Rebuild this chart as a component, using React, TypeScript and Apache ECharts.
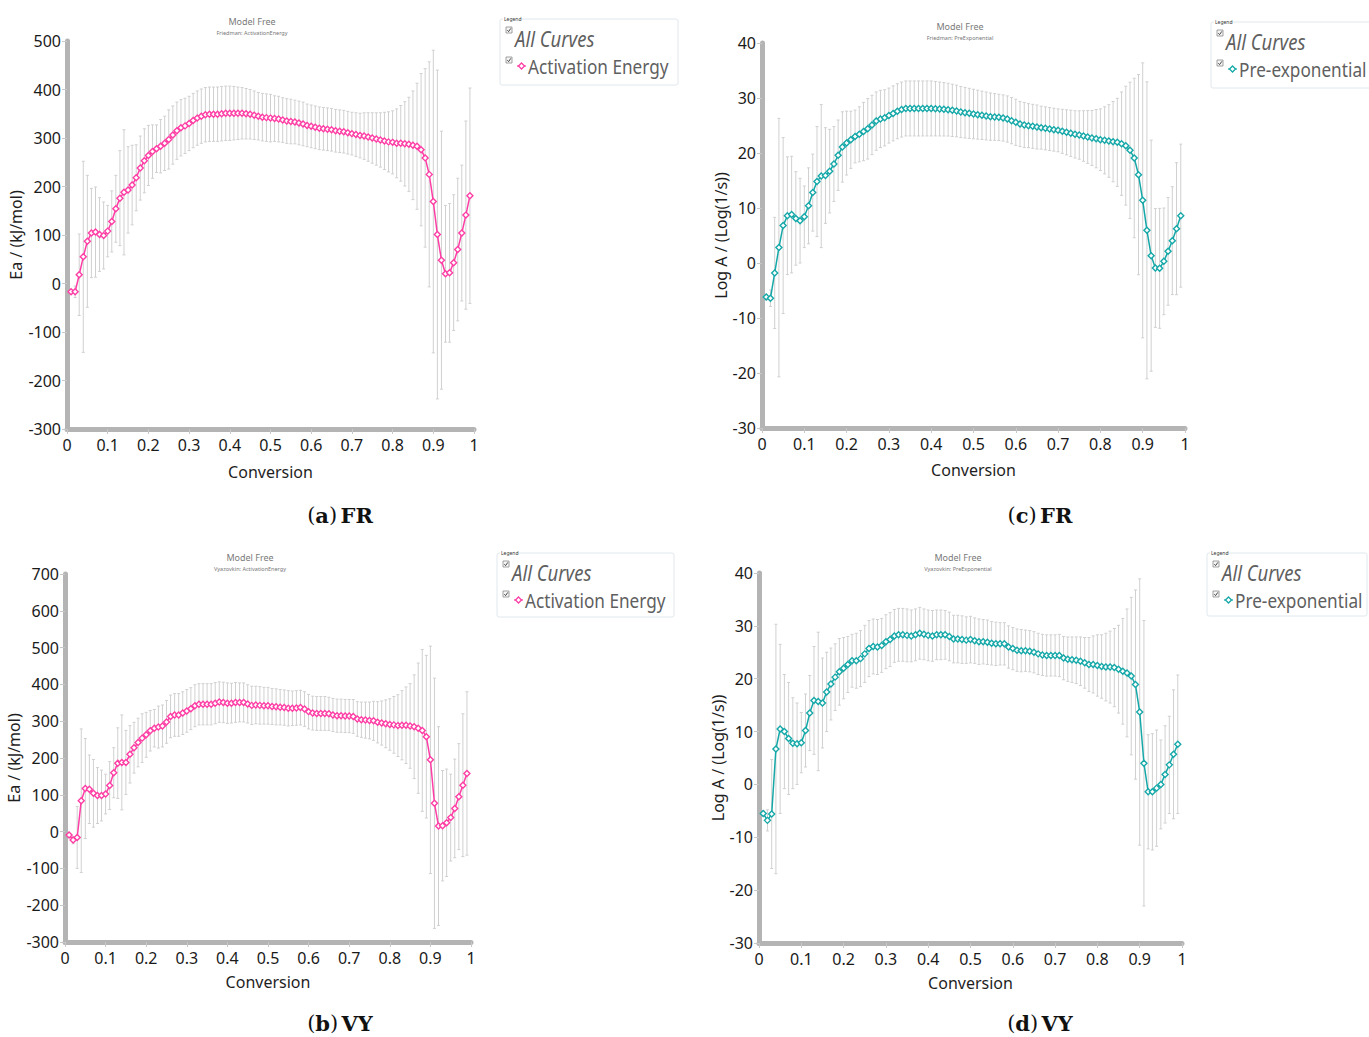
import React, { useEffect, useRef } from "react";
import * as echarts from "echarts";

// Conversion grid shared by every curve
const conversion = [
  0.01, 0.02, 0.03, 0.04, 0.05, 0.06, 0.07, 0.08, 0.09, 0.1,
  0.11, 0.12, 0.13, 0.14, 0.15, 0.16, 0.17, 0.18, 0.19, 0.2,
  0.21, 0.22, 0.23, 0.24, 0.25, 0.26, 0.27, 0.28, 0.29, 0.3,
  0.31, 0.32, 0.33, 0.34, 0.35, 0.36, 0.37, 0.38, 0.39, 0.4,
  0.41, 0.42, 0.43, 0.44, 0.45, 0.46, 0.47, 0.48, 0.49, 0.5,
  0.51, 0.52, 0.53, 0.54, 0.55, 0.56, 0.57, 0.58, 0.59, 0.6,
  0.61, 0.62, 0.63, 0.64, 0.65, 0.66, 0.67, 0.68, 0.69, 0.7,
  0.71, 0.72, 0.73, 0.74, 0.75, 0.76, 0.77, 0.78, 0.79, 0.8,
  0.81, 0.82, 0.83, 0.84, 0.85, 0.86, 0.87, 0.88, 0.89, 0.9,
  0.91, 0.92, 0.93, 0.94, 0.95, 0.96, 0.97, 0.98, 0.99,
];

const xTicks = ["0", "0.1", "0.2", "0.3", "0.4", "0.5", "0.6", "0.7", "0.8", "0.9", "1"];

// Friedman – activation energy (kJ/mol) and its spread
const eaFriedman = [
  -17, -17, 18, 55, 87, 104, 106, 101, 99, 108,
  128, 154, 176, 188, 193, 203, 218, 238, 253, 264,
  272, 278, 283, 289, 297, 306, 315, 321, 325, 330,
  336, 341, 345, 348, 349, 349, 349, 350, 351, 351,
  351, 351, 351, 350, 349, 347, 345, 343, 342, 341,
  340, 339, 337, 335, 334, 333, 331, 329, 326, 324,
  322, 320, 319, 318, 317, 315, 314, 313, 311, 309,
  307, 305, 304, 302, 300, 298, 296, 294, 292, 291,
  289, 289, 288, 287, 285, 283, 276, 259, 225, 169,
  101, 48, 20, 22, 43, 70, 104, 141, 181,
];
const eaFriedmanErr = [
  4, 12, 84, 197, 136, 92, 93, 76, 69, 53,
  63, 69, 98, 129, 89, 82, 68, 66, 66, 62,
  55, 49, 55, 56, 61, 60, 59, 58, 57, 56,
  56, 56, 56, 56, 56, 56, 56, 56, 56, 56,
  55, 54, 53, 52, 51, 50, 49, 49, 49, 49,
  47, 47, 46, 46, 46, 45, 45, 45, 44, 44,
  44, 44, 44, 44, 44, 44, 44, 44, 44, 44,
  45, 46, 48, 50, 52, 54, 56, 59, 62, 65,
  71, 78, 87, 97, 112, 130, 157, 184, 232, 312,
  339, 266, 141, 143, 140, 147, 140, 194, 222,
];

// Friedman – pre-exponential factor, Log A (Log(1/s))
const logAFriedman = [
  -6.2, -6.4, -1.8, 2.8, 6.8, 8.6, 8.8, 8.1, 7.7, 8.4,
  10.4, 12.8, 14.8, 15.8, 15.9, 16.7, 18.0, 19.6, 21.1, 21.8,
  22.4, 23.0, 23.4, 23.9, 24.4, 25.1, 25.8, 26.2, 26.4, 26.8,
  27.2, 27.6, 27.9, 28.1, 28.1, 28.1, 28.1, 28.1, 28.1, 28.1,
  28.06, 28.0, 27.94, 27.88, 27.76, 27.64, 27.45, 27.33, 27.21, 27.09,
  26.97, 26.85, 26.73, 26.61, 26.55, 26.48, 26.36, 26.18, 25.88, 25.58,
  25.27, 25.09, 24.97, 24.85, 24.73, 24.61, 24.48, 24.36, 24.24, 24.12,
  23.94, 23.76, 23.58, 23.39, 23.27, 23.09, 22.91, 22.73, 22.61, 22.42,
  22.3, 22.18, 22.06, 21.94, 21.7, 21.33, 20.48, 19.09, 16.06, 11.39,
  5.94, 1.33, -0.91, -0.97, 0.3, 2.12, 4.06, 6.24, 8.61,
];
const logAFriedmanErr = [
  0.5, 1.5, 10.1, 23.5, 16, 10.7, 10.6, 8.5, 7.7, 5.6,
  6.9, 7.0, 10, 13, 8.7, 7.6, 6.8, 6.4, 6.4, 5.8,
  5.2, 4.8, 5.0, 5.3, 5.5, 5.4, 5.3, 5.2, 5.1, 5.0,
  5.0, 5.0, 5.0, 5.0, 5.0, 5.0, 5.0, 5.0, 5.0, 5.0,
  4.95, 4.9, 4.85, 4.8, 4.75, 4.7, 4.65, 4.6, 4.55, 4.5,
  4.45, 4.4, 4.35, 4.3, 4.25, 4.2, 4.2, 4.2, 4.2, 4.2,
  4.1, 4.1, 4.0, 4.0, 4.0, 3.9, 3.9, 3.9, 3.9, 3.9,
  4.0, 4.1, 4.2, 4.3, 4.4, 4.6, 4.8, 5.0, 5.3, 5.6,
  6.1, 6.6, 7.3, 8.0, 9.4, 10.8, 12.4, 14.5, 18.2, 25,
  27, 21, 10.8, 10.9, 9.7, 9.8, 9.8, 12, 13,
];

// Vyazovkin – activation energy (kJ/mol)
const eaVyazovkin = [
  -9, -23, -16, 84, 117, 115, 104, 98, 98, 102,
  125, 160, 186, 188, 188, 210, 228, 242, 254, 263,
  274, 281, 284, 287, 298, 313, 317, 317, 322, 328,
  334, 342, 346, 346, 346, 346, 349, 352, 351, 349,
  349, 351, 351, 351, 347, 343, 344, 343, 342, 342,
  340, 339, 338, 337, 335, 335, 336, 337, 333, 326,
  322, 321, 321, 321, 320, 317, 315, 315, 314, 314,
  313, 306, 304, 303, 302, 301, 297, 295, 293, 291,
  290, 288, 289, 289, 287, 285, 281, 275, 258, 195,
  77, 15, 16, 24, 38, 63, 95, 126, 158,
];
const eaVyazovkinErr = [
  3, 10, 84, 195, 136, 93, 92, 76, 69, 54,
  65, 68, 96, 129, 87, 78, 69, 66, 66, 61,
  55, 51, 57, 57, 58, 58, 58, 58, 58, 58,
  57, 57, 56, 56, 56, 56, 56, 55, 55, 55,
  54, 54, 53, 53, 52, 52, 51, 51, 50, 50,
  49, 49, 48, 48, 48, 47, 47, 47, 47, 47,
  46, 46, 46, 46, 45, 45, 45, 45, 45, 45,
  46, 47, 48, 49, 50, 53, 56, 60, 65, 70,
  77, 84, 94, 104, 115, 141, 177, 220, 221, 309,
  340, 270, 150, 146, 118, 134, 144, 194, 222,
];

// Vyazovkin – pre-exponential factor, Log A (Log(1/s))
const logAVyazovkin = [
  -5.5, -6.8, -5.6, 6.7, 10.5, 10.0, 8.7, 7.8, 7.7, 7.9,
  10.2, 13.5, 15.9, 15.7, 15.4, 17.5, 19.0, 20.3, 21.3, 22.0,
  22.7, 23.4, 23.4, 23.8, 24.7, 25.7, 26.1, 26.0, 26.3, 27.0,
  27.4, 28.1, 28.3, 28.3, 28.2, 28.1, 28.3, 28.6, 28.4, 28.2,
  28.1, 28.3, 28.3, 28.3, 28.0, 27.5, 27.5, 27.4, 27.3, 27.4,
  27.2, 27.0, 27.0, 26.9, 26.7, 26.6, 26.6, 26.6, 26.0, 25.7,
  25.4, 25.3, 25.3, 25.2, 25.0, 24.7, 24.5, 24.4, 24.4, 24.4,
  24.4, 23.9, 23.7, 23.6, 23.5, 23.3, 23.0, 22.7, 22.7, 22.5,
  22.3, 22.2, 22.2, 22.1, 21.8, 21.4, 21.1, 20.5, 18.9, 13.7,
  4.0, -1.4, -1.4, -0.7, 0.0, 1.9, 3.7, 5.7, 7.6,
];
const logAVyazovkinErr = [
  0.5, 2, 10.3, 23.6, 16, 10.8, 10.6, 8.6, 7.7, 5.7,
  6.9, 7.1, 10.2, 13.1, 8.5, 7.5, 6.8, 6.3, 6.3, 5.8,
  5.3, 5.0, 5.2, 5.3, 5.4, 5.3, 5.2, 5.2, 5.1, 5.1,
  5.1, 5.0, 5.0, 5.0, 5.0, 4.9, 4.9, 4.9, 4.8, 4.8,
  4.8, 4.7, 4.7, 4.6, 4.6, 4.5, 4.5, 4.5, 4.4, 4.4,
  4.3, 4.3, 4.2, 4.2, 4.1, 4.1, 4.0, 4.0, 4.0, 4.0,
  4.0, 4.0, 3.9, 3.9, 3.9, 3.9, 3.9, 3.9, 3.9, 3.9,
  4.0, 4.1, 4.2, 4.3, 4.4, 4.6, 4.8, 5.1, 5.4, 5.8,
  6.0, 6.4, 6.8, 7.4, 8.3, 10, 12.1, 14.9, 17.9, 25.2,
  27, 10.8, 11, 11, 8.4, 9.2, 9.2, 12.2, 13.1,
];

const PINK = "#ff3ea5";
const TEAL = "#16a8a8";
const AXIS_GREY = "#b4b4b4";
const BAR_GREY = "#d0d0d0";
const SANS = '"Noto Sans", "Open Sans", sans-serif';
const SERIF = '"DejaVu Serif", "Liberation Serif", serif';

type Panel = {
  grid: { left: number; top: number; width: number; height: number };
  yMin: number;
  yMax: number;
  yStep: number;
  yName: string;
  yNameGap: number;
  xNameGap: number;
  color: string;
  values: number[];
  errs: number[];
  method: string;
  title: { x: number; y: number };
  legend: { x: number; y: number; w: number; h: number };
  legendName: string;
  caption: { letter: string; tag: string; x: number; y: number };
};

const panels: Panel[] = [
  {
    grid: { left: 67, top: 41, width: 407, height: 388 },
    yMin: -300, yMax: 500, yStep: 100,
    yName: "Ea / (kJ/mol)", yNameGap: 39, xNameGap: 35,
    color: PINK, values: eaFriedman, errs: eaFriedmanErr,
    method: "Friedman: ActivationEnergy",
    title: { x: 252, y: 21 },
    legend: { x: 500, y: 19, w: 178, h: 66 },
    legendName: "Activation Energy",
    caption: { letter: "a", tag: "FR", x: 340, y: 515 },
  },
  {
    grid: { left: 762, top: 43, width: 423, height: 385 },
    yMin: -30, yMax: 40, yStep: 10,
    yName: "Log A / (Log(1/s))", yNameGap: 23, xNameGap: 34,
    color: TEAL, values: logAFriedman, errs: logAFriedmanErr,
    method: "Friedman: PreExponential",
    title: { x: 960, y: 26 },
    legend: { x: 1211, y: 22, w: 162, h: 66 },
    legendName: "Pre-exponential",
    caption: { letter: "c", tag: "FR", x: 1040, y: 515 },
  },
  {
    grid: { left: 65, top: 574, width: 406, height: 368 },
    yMin: -300, yMax: 700, yStep: 100,
    yName: "Ea / (kJ/mol)", yNameGap: 34, xNameGap: 32,
    color: PINK, values: eaVyazovkin, errs: eaVyazovkinErr,
    method: "Vyazovkin: ActivationEnergy",
    title: { x: 250, y: 557 },
    legend: { x: 497, y: 553, w: 177, h: 64 },
    legendName: "Activation Energy",
    caption: { letter: "b", tag: "VY", x: 340, y: 1023 },
  },
  {
    grid: { left: 759, top: 573, width: 423, height: 370 },
    yMin: -30, yMax: 40, yStep: 10,
    yName: "Log A / (Log(1/s))", yNameGap: 25, xNameGap: 32,
    color: TEAL, values: logAVyazovkin, errs: logAVyazovkinErr,
    method: "Vyazovkin: PreExponential",
    title: { x: 958, y: 557 },
    legend: { x: 1207, y: 553, w: 160, h: 63 },
    legendName: "Pre-exponential",
    caption: { letter: "d", tag: "VY", x: 1040, y: 1023 },
  },
];

function checkbox(x: number, y: number) {
  return {
    type: "group",
    x,
    y,
    children: [
      { type: "rect", shape: { x: 0, y: 0, width: 6, height: 6 }, style: { fill: "#f6f6f6", stroke: "#8a8a8a", lineWidth: 0.8 } },
      { type: "polyline", shape: { points: [[1.3, 3.2], [2.6, 4.6], [4.8, 1.4]] }, style: { fill: "none", stroke: "#333", lineWidth: 0.9 } },
    ],
  };
}

function legendBox(p: Panel) {
  const { x, y, w, h } = p.legend;
  return {
    type: "group",
    x,
    y,
    children: [
      { type: "rect", shape: { x: 0, y: 0, width: w, height: h, r: 2 }, style: { fill: "#fff", stroke: "#e1e8ec", lineWidth: 1 } },
      { type: "rect", shape: { x: 3, y: -2, width: 16, height: 5 }, style: { fill: "#fff" } },
      { type: "text", x: 4, y: 0, style: { text: "Legend", font: `5px ${SANS}`, fill: "#333", align: "left", verticalAlign: "middle" } },
      checkbox(6, 8),
      { type: "text", x: 15, y: 20, scaleX: 0.88, style: { text: "All Curves", font: `italic 21px ${SANS}`, fill: "#5f5f5f", align: "left", verticalAlign: "middle" } },
      checkbox(6, 38),
      { type: "line", shape: { x1: 17, y1: 47, x2: 26, y2: 47 }, style: { stroke: p.color, lineWidth: 1.2 } },
      { type: "polygon", shape: { points: [[21.5, 44], [24.5, 47], [21.5, 50], [18.5, 47]] }, style: { fill: "#fff", stroke: p.color, lineWidth: 1.3 } },
      { type: "text", x: 28, y: 47, scaleX: 0.86, style: { text: p.legendName, font: `20px ${SANS}`, fill: "#5f5f5f", align: "left", verticalAlign: "middle" } },
    ],
  };
}

function titleTexts(p: Panel) {
  return [
    { type: "text", x: p.title.x, y: p.title.y, style: { text: "Model Free", font: `9px ${SANS}`, fill: "#7a7a7a", align: "center", verticalAlign: "middle" } },
    { type: "text", x: p.title.x, y: p.title.y + 12, style: { text: p.method, font: `5.5px ${SANS}`, fill: "#777777", align: "center", verticalAlign: "middle" } },
  ];
}

function captionText(p: Panel) {
  return {
    type: "text",
    x: p.caption.x,
    y: p.caption.y,
    style: {
      text: `{n|(}{b|${p.caption.letter}}{n|)} {b|${p.caption.tag}}`,
      align: "center",
      verticalAlign: "middle",
      rich: {
        n: { font: `21px ${SERIF}`, fill: "#111" },
        b: { font: `bold 21px ${SERIF}`, fill: "#111" },
      },
    },
  };
}

function errorBarRenderer(params: any, api: any) {
  const x = api.value(0);
  const v = api.value(1);
  const e = api.value(2);
  if (!e) return null;
  const hi = api.coord([x, v + e]);
  const lo = api.coord([x, v - e]);
  const style = { stroke: BAR_GREY, lineWidth: 1 };
  return {
    type: "group",
    children: [
      { type: "line", shape: { x1: hi[0], y1: hi[1], x2: lo[0], y2: lo[1] }, style },
      { type: "line", shape: { x1: hi[0] - 1.5, y1: hi[1], x2: hi[0] + 1.5, y2: hi[1] }, style },
      { type: "line", shape: { x1: lo[0] - 1.5, y1: lo[1], x2: lo[0] + 1.5, y2: lo[1] }, style },
    ],
  };
}

function buildOption() {
  const grid = panels.map((p) => ({ ...p.grid, outerBoundsMode: "none", containLabel: false }));

  const xAxis = panels.map((p, i) => ({
    type: "value",
    gridIndex: i,
    min: 0,
    max: 1,
    interval: 0.1,
    name: "Conversion",
    nameLocation: "middle",
    nameGap: p.xNameGap,
    nameTextStyle: { fontFamily: SANS, fontSize: 16, color: "#1e1e1e" },
    axisLine: { show: true, onZero: false, lineStyle: { color: AXIS_GREY, width: 5 } },
    axisTick: { show: true, length: 5, lineStyle: { color: "#c8c8c8", width: 1 } },
    splitLine: { show: false },
    axisLabel: {
      fontFamily: SANS,
      fontSize: 16,
      color: "#1a1a1a",
      margin: 8,
      formatter: (v: number) => xTicks[Math.round(v * 10)] ?? "",
    },
  }));

  const yAxis = panels.map((p, i) => ({
    type: "value",
    gridIndex: i,
    min: p.yMin,
    max: p.yMax,
    interval: p.yStep,
    name: p.yName,
    nameLocation: "middle",
    nameRotate: 90,
    nameGap: p.yNameGap,
    nameTextStyle: { fontFamily: SANS, fontSize: 16, color: "#1e1e1e" },
    axisLine: { show: true, onZero: false, lineStyle: { color: AXIS_GREY, width: 5 } },
    axisTick: { show: true, length: 5, lineStyle: { color: "#c8c8c8", width: 1 } },
    splitLine: { show: false },
    axisLabel: { fontFamily: SANS, fontSize: 16, color: "#1a1a1a", margin: 6 },
  }));

  const series: any[] = [];
  panels.forEach((p, i) => {
    series.push({
      type: "custom",
      xAxisIndex: i,
      yAxisIndex: i,
      renderItem: errorBarRenderer,
      encode: { x: 0, y: 1 },
      data: conversion.map((c, k) => [c, p.values[k], p.errs[k]]),
      z: 1,
      silent: true,
    });
    series.push({
      type: "line",
      xAxisIndex: i,
      yAxisIndex: i,
      data: conversion.map((c, k) => [c, p.values[k]]),
      symbol: "diamond",
      symbolSize: 6,
      showAllSymbol: true,
      lineStyle: { color: p.color, width: 1.5 },
      itemStyle: { color: "#ffffff", borderColor: p.color, borderWidth: 1.4 },
      z: 3,
      silent: true,
    });
  });

  const graphic: any[] = [];
  panels.forEach((p) => {
    graphic.push(...titleTexts(p));
    graphic.push(legendBox(p));
    graphic.push(captionText(p));
  });

  return {
    animation: false,
    backgroundColor: "#ffffff",
    grid,
    xAxis,
    yAxis,
    series,
    graphic,
  };
}

export default function App() {
  const ref = useRef<HTMLDivElement>(null);

  useEffect(() => {
    if (!ref.current) return;
    const chart = echarts.init(ref.current, undefined, { renderer: "svg" });
    chart.setOption(buildOption() as any);
    return () => chart.dispose();
  }, []);

  return (
    <div
      ref={ref}
      style={{ position: "absolute", left: 0, top: 0, width: 1369, height: 1037, background: "#fff" }}
    />
  );
}
